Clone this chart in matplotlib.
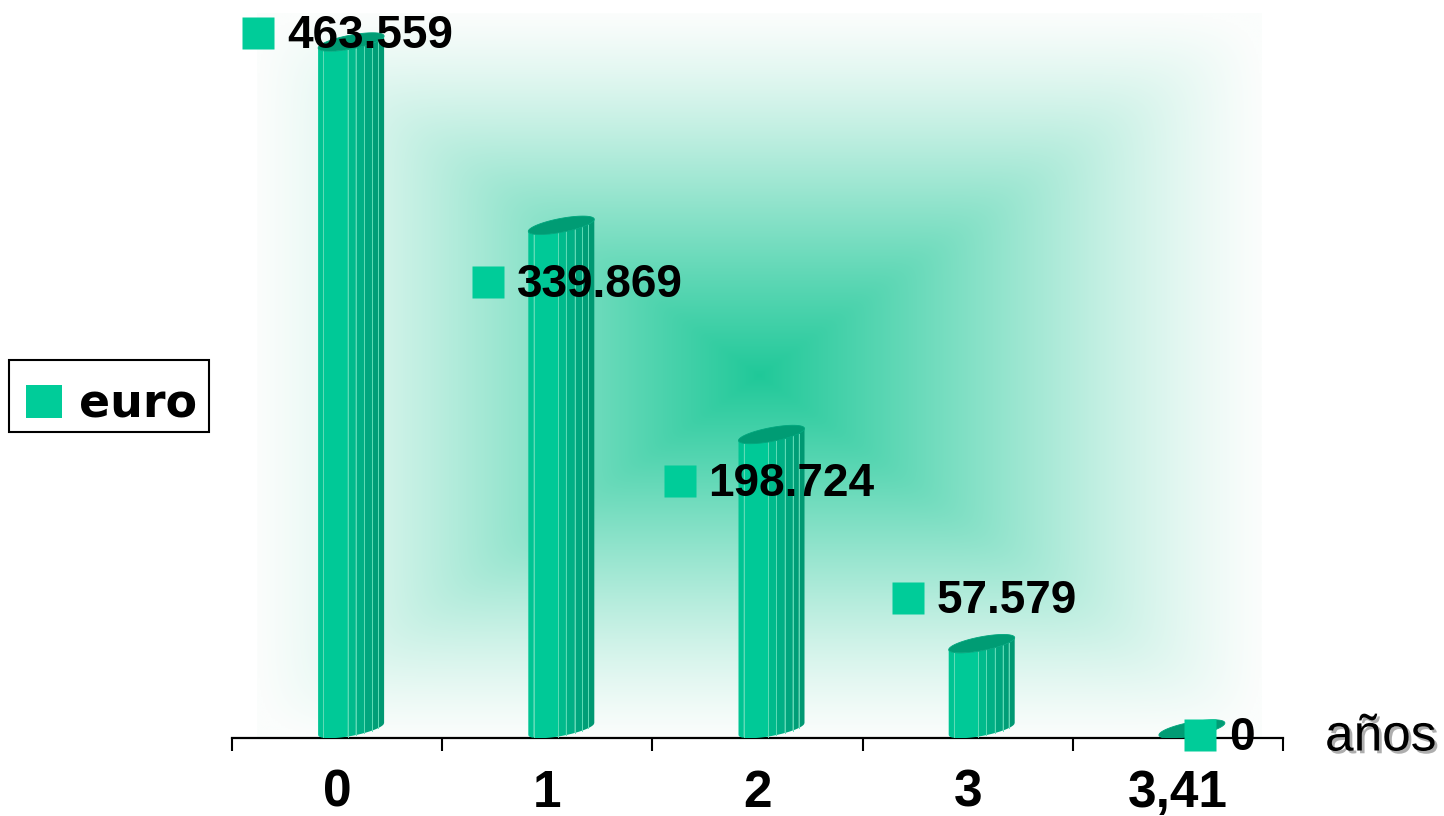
import numpy as np
import matplotlib
matplotlib.use('Agg')
import matplotlib.pyplot as plt
from matplotlib.patches import Polygon, Rectangle
from matplotlib.transforms import offset_copy
import matplotlib.patheffects as pe

# data
categories = ['0', '1', '2', '3', '3,41']
values = [463559, 339869, 198724, 57579, 0]
value_labels = ['463.559', '339.869', '198.724', '57.579', '0']
series_name = 'euro'
axis_title = 'años'

# label placement (pixels, relative to the top of each bar)
label_offsets = [(-79, 9), (-59, -57), (-78, -47), (-60, 46), (22, -6)]

W, H = 1444, 816
plt.rcParams['font.family'] = ['Liberation Sans', 'DejaVu Sans']

fig = plt.figure(figsize=(W / 100, H / 100), dpi=100)

# background: square gradient from the centre
bg = fig.add_axes([0, 0, 1, 1], zorder=0)
bg.set_xlim(0, W)
bg.set_ylim(H, 0)
bg.axis('off')
gx0, gx1, gy0, gy1 = 257, 1262, 13, 738
cx, cy = (gx0 + gx1) / 2, (gy0 + gy1) / 2
xx, yy = np.meshgrid(np.linspace(gx0, gx1, 600), np.linspace(gy0, gy1, 450))
u = np.abs(xx - cx) / (cx - gx0)
w = np.abs(yy - cy) / (cy - gy0)
t = np.clip((u ** 16 + w ** 16) ** (1 / 16), 0, 1)
f = 0.35 * (3 * t ** 2 - 2 * t ** 3) + 0.65 * t ** 0.8
center = np.array([30, 200, 152]) / 255
edge = np.array([251, 253, 252]) / 255
img = center[None, None, :] * (1 - f[..., None]) + edge[None, None, :] * f[..., None]
bg.imshow(img, extent=(gx0, gx1, gy1, gy0), aspect='auto', interpolation='bilinear')

# main axes
ax_left, ax_right, ax_top, ax_bot = 232, 1283, 0, 738
ax = fig.add_axes([ax_left / W, (H - ax_bot) / H, (ax_right - ax_left) / W, (ax_bot - ax_top) / H], zorder=1)
ax.patch.set_alpha(0)
n = len(categories)
ax.set_xlim(-0.5, n - 0.5)
units_per_px = max(values) / (729 - 42)
ax.set_ylim(-9 * units_per_px, max(values) + 42 * units_per_px)
kx = n / (ax_right - ax_left)
ky = units_per_px

for s in ['top', 'right', 'left']:
    ax.spines[s].set_visible(False)
ax.spines['bottom'].set_linewidth(1.6)
ax.set_yticks([])
ax.set_xticks(np.arange(n + 1) - 0.5)
ax.set_xticklabels([])
ax.tick_params(axis='x', which='major', direction='out', length=9, width=1.5)
ax.set_xticks(np.arange(n), minor=True)
ax.set_xticklabels(categories, minor=True, fontsize=37, fontweight='bold')
ax.tick_params(axis='x', which='minor', length=0, pad=22)

# cylinders
a, b, slope, shift = 33, 7, 6 / 33, 14
facets = [0, 0.08, 0.45, 0.57, 0.70, 0.82, 0.91, 1.0]
facet_cols = ['#00c493', '#00c997', '#00bb8c', '#00b085', '#00a67e', '#009e77', '#009872']
for i, v in enumerate(values):
    xc = i + shift * kx
    if v > 0:
        for j in range(len(facets) - 1):
            xp = np.linspace(-a + 2 * a * facets[j], -a + 2 * a * facets[j + 1], 12)
            dip = -b * np.sqrt(np.clip(1 - (xp / a) ** 2, 0, 1)) + slope * xp
            bx = xc + xp * kx
            poly = np.vstack([np.column_stack([bx, dip * ky]),
                              np.column_stack([bx[::-1], v + dip[::-1] * ky])])
            ax.add_patch(Polygon(poly, closed=True, facecolor=facet_cols[j],
                                 edgecolor='none', zorder=3))
            if j > 0:
                ax.plot([bx[0], bx[0]], [dip[0] * ky, v + dip[0] * ky],
                        color='#5fdcb6', lw=0.7, zorder=3.1)
    th = np.linspace(0, 2 * np.pi, 80)
    ex = a * np.cos(th)
    ey = b * np.sin(th) + slope * ex
    ax.add_patch(Polygon(np.column_stack([xc + ex * kx, v + ey * ky]), closed=True,
                         facecolor='#009c74', edgecolor='#00a67d', lw=0.6, zorder=3.2))

# value labels with little squares
for i, v in enumerate(values):
    dx, dy = label_offsets[i]
    tr_sq = offset_copy(ax.transData, fig=fig, x=dx, y=dy, units='dots')
    ax.plot([i], [v], marker='s', markersize=22.5, color='#00cc99', mec='none',
            transform=tr_sq, clip_on=False, zorder=5)
    tr_tx = offset_copy(ax.transData, fig=fig, x=dx + 29, y=dy - 3, units='dots')
    ax.text(i, v, value_labels[i], transform=tr_tx, fontsize=33, fontweight='bold',
            ha='left', va='center', zorder=6, clip_on=False)

# axis title with shadow
fig.text(1325 / W, 1 - 737 / H, axis_title, fontsize=37, ha='left', va='center',
         path_effects=[pe.SimplePatchShadow(offset=(2, -2), shadow_rgbFace='#9a9a9a', alpha=0.8),
                       pe.Normal()])

# legend box drawn by hand
fig.patches.append(Rectangle((9 / W, 1 - 432 / H), 200 / W, 72 / H, transform=fig.transFigure,
                             facecolor='white', edgecolor='black', lw=1.5, zorder=2))
fig.patches.append(Rectangle((26 / W, 1 - 418 / H), 36 / W, 33 / H, transform=fig.transFigure,
                             facecolor='#00cc99', edgecolor='none', zorder=3))
fig.text(79 / W, 1 - 418 / H, series_name, fontsize=33, fontweight='bold',
         family=['DejaVu Sans'], ha='left', va='baseline', zorder=4)

fig.savefig('out.png', dpi=100)
